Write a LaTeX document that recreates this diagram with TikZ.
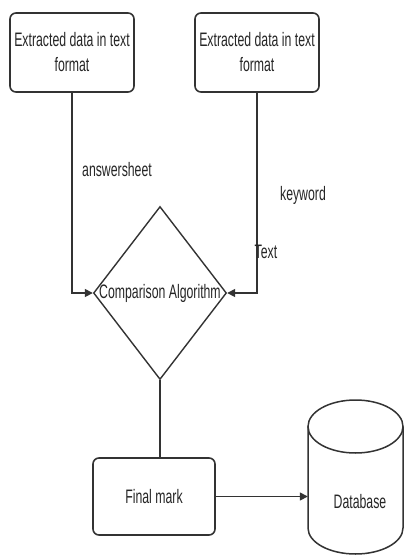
\documentclass[tikz,border=0pt]{standalone}
\usepackage{fontspec}
\setmainfont[FakeStretch=0.63]{Liberation Sans}
\usetikzlibrary{shapes.geometric,arrows.meta}
\definecolor{ln}{HTML}{333333}
\definecolor{tx}{HTML}{262626}
\begin{document}
\begin{tikzpicture}[x=1pt,y=-1pt,
  every node/.style={text=tx,font=\fontsize{19.5}{25}\selectfont},
  procbox/.style={draw=ln,line width=1.6pt,rounded corners=6pt,align=center,inner sep=2pt},
  decision/.style={diamond,draw=ln,line width=1.4pt,inner sep=0pt,minimum width=133pt,minimum height=173pt},
  conn/.style={draw=ln,line width=1.5pt},
  arr/.style={conn,-{Triangle[length=8pt,width=8pt]}},
  lbl/.style={inner sep=0pt}]
\useasboundingbox (0,0) rectangle (404,555);
\fill[white] (0,0) rectangle (404,555);

\node[procbox,minimum width=124pt,minimum height=79pt] (b1) at (72,52.5) {Extracted data in text\\format};
\node[procbox,minimum width=124pt,minimum height=79pt] (b2) at (257,52.5) {Extracted data in text\\format};
\node[decision,label=center:{Comparison Algorithm}] (dia) at (160,293) {};
\node[procbox,minimum width=122pt,minimum height=77pt] (fm) at (154,496.5) {Final mark};

% database cylinder
\node[minimum width=95pt,minimum height=154pt,inner sep=0pt] (db) at (355.5,477) {};
\draw[ln,line width=1.5pt] (355.5,426.5) ellipse [x radius=47.5pt, y radius=26.5pt];
\draw[ln,line width=1.5pt] (308,426.5) -- (308,528) arc[start angle=180,end angle=360,x radius=47.5pt,y radius=26pt] -- (403,426.5);
\node[lbl] (dbt) at (360,502) {Database};

\draw[arr] (b1.south) |- (dia.west);
\draw[arr] (b2.south) |- (dia.east);
\draw[conn] (dia.south) -- (dia.south |- fm.north);
\draw[arr] (fm.east) -- (fm.east -| db.west);

\node[lbl] (l1) at (117,170) {answersheet};
\node[lbl] (l2) at (303,195) {keyword};
\node[lbl] (l3) at (266,252) {Text};
\end{tikzpicture}
\end{document}
